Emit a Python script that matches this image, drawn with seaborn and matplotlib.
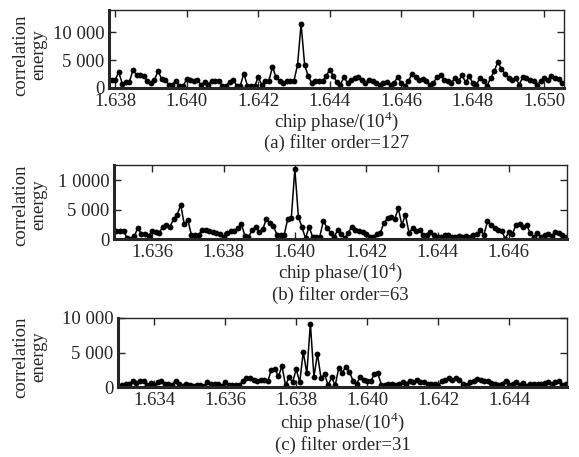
import numpy as np
import pandas as pd
import seaborn as sns
import matplotlib.pyplot as plt

# correlation energy, one sample per chip (0.0001 in units of 1e4 chips)
x0_a = 1.6379
energy_a = [1500, 1350, 2900, 800, 1000, 1100, 3200, 2400, 2300, 2100,
            1300, 900, 1500, 3000, 1700, 1500, 600, 600, 1300, 300,
            300, 1600, 1400, 1200, 1400, 600, 1000, 600, 1300, 1200,
            1300, 400, 400, 1000, 1500, 400, 400, 2600, 400, 400,
            300, 1900, 600, 1200, 1300, 3800, 1900, 1300, 900, 1300,
            1200, 1300, 4100, 11500, 4100, 2100, 900, 1200, 1200, 1300,
            2100, 3300, 2200, 1000, 600, 2000, 900, 1500, 1800, 2000,
            1500, 900, 1500, 1200, 900, 600, 900, 1000, 600, 900,
            2000, 900, 400, 1200, 2600, 2000, 1500, 1600, 1300, 600,
            900, 2000, 2400, 1500, 1200, 900, 1800, 1200, 2300, 1000,
            2100, 900, 600, 1800, 1200, 400, 1800, 3000, 4700, 3400,
            2600, 1800, 1500, 1800, 600, 2000, 1800, 1500, 1200, 600,
            1200, 1800, 1500, 2100, 1800, 1600, 900]

x0_b = 1.6350
energy_b = [1370, 1370, 1400, 100, 0, 500, 1900, 850, 850, 500,
            1400, 1250, 1100, 2100, 2300, 2100, 3400, 4100, 5800, 2500,
            3200, 700, 700, 700, 1500, 1500, 1370, 1250, 1100, 850,
            300, 1100, 1370, 1370, 1800, 2600, 500, 300, 1500, 2100,
            1250, 1650, 3400, 2700, 2200, 700, 700, 700, 3400, 3500,
            11900, 3800, 2000, 100, 2100, 300, 400, 400, 3100, 1900,
            1100, 300, 1500, 850, 100, 1100, 2100, 1500, 1400, 1250,
            850, 300, 300, 850, 1100, 2800, 3500, 3700, 3400, 5200,
            2400, 4100, 1100, 1800, 1400, 1500, 700, 700, 1250, 700,
            400, 400, 600, 700, 300, 400, 500, 400, 500, 400,
            600, 850, 1500, 700, 3000, 2400, 1800, 1500, 1400, 0,
            1250, 850, 2400, 2600, 2100, 2400, 1000, 400, 1000, 400,
            700, 850, 500, 1250, 1000, 700, 300]

x0_c = 1.6330
energy_c = [100, 230, 370, 470, 840, 560, 800, 840, 230, 560,
            230, 700, 930, 370, 470, 230, 930, 470, 140, 470,
            330, 100, 230, 230, 100, 700, 470, 370, 470, 140,
            700, 230, 330, 230, 230, 930, 1300, 1260, 1030, 800,
            1030, 1030, 800, 2500, 2650, 1540, 3040, 230, 1400, 700,
            2570, 700, 5100, 1960, 9200, 1500, 4800, 1260, 1870, 230,
            1400, 230, 2800, 2100, 2940, 2200, 930, 470, 1400, 1070,
            840, 800, 1870, 1960, 330, 330, 470, 470, 330, 470,
            700, 470, 930, 700, 1070, 700, 700, 470, 470, 370,
            100, 930, 1070, 1260, 1070, 1260, 1070, 470, 230, 700,
            930, 1170, 1070, 800, 930, 600, 470, 230, 470, 930,
            230, 470, 700, 230, 600, 140, 470, 470, 470, 470,
            560, 700, 470, 700, 800, 330, 470]

ticks_a = [1.638, 1.640, 1.642, 1.644, 1.646, 1.648, 1.650]
ticks_b = [1.636, 1.638, 1.640, 1.642, 1.644, 1.646]
ticks_c = [1.634, 1.636, 1.638, 1.640, 1.642, 1.644]
ylabels_a = ['0', '5 000', '10 000']
ylabels_b = ['0', '5 000', '1 0000']
ylabels_c = ['0', '5 000', '10 000']
captions = ['(a) filter order=127', '(b) filter order=63', '(c) filter order=31']

sns.set_style('ticks')
plt.rcParams['font.family'] = ['Liberation Serif', 'DejaVu Serif']
plt.rcParams['mathtext.fontset'] = 'custom'
plt.rcParams['mathtext.rm'] = 'Liberation Serif'
plt.rcParams['font.size'] = 13.5

W, H = 579, 457
fig = plt.figure(figsize=(W / 100, H / 100), dpi=100)

# box in pixels (left, right, top, bottom), xlim, ylim top, text rows (px)
panels = [
    (x0_a, energy_a, ticks_a, ylabels_a, (109, 564, 10, 88), (1.63783, 1.65055), 14000, (121, 143), 55),
    (x0_b, energy_b, ticks_b, ylabels_b, (114, 567, 165, 239), (1.63493, 1.64763), 12600, (272, 295), 205),
    (x0_c, energy_c, ticks_c, ylabels_c, (118, 567, 318, 387), (1.63298, 1.64563), 10000, (422, 445), 357),
]

for i, (x0, energy, ticks, ylabs, (l, r, t, b), xlim, ytop, (xl_px, cap_px), yl_px) in enumerate(panels):
    ax = fig.add_axes([l / W, 1 - b / H, (r - l) / W, (b - t) / H])
    df = pd.DataFrame({'phase': x0 + 0.0001 * np.arange(len(energy)), 'energy': energy})
    sns.lineplot(data=df, x='phase', y='energy', ax=ax, color='black', lw=1.1,
                 marker='o', markersize=4.2, markeredgewidth=0)
    ax.set_xlim(*xlim)
    ax.set_ylim(0, ytop)
    ax.set_xticks(ticks)
    ax.set_xticklabels(['%.3f' % v for v in ticks])
    ax.set_yticks([0, 5000, 10000])
    ax.set_yticklabels(ylabs)
    ax.tick_params(direction='in', top=True, right=True, length=5, width=1, pad=3.5)
    for s in ['left', 'bottom']:
        ax.spines[s].set_linewidth(2.2)
    for s in ['top', 'right']:
        ax.spines[s].set_linewidth(1.0)
    ax.set_xlabel('')
    ax.set_ylabel('')
    fig.text(30 / W, 1 - yl_px / H, 'correlation\nenergy', rotation=90,
             ha='center', va='center', linespacing=1.05)
    cx = (l + r) / 2 / W
    fig.text(cx, 1 - xl_px / H, 'chip phase/(10$^{\\mathrm{4}}$)', ha='center', va='center')
    fig.text(cx, 1 - cap_px / H, captions[i], ha='center', va='center')

fig.savefig('out.png', dpi=100)
